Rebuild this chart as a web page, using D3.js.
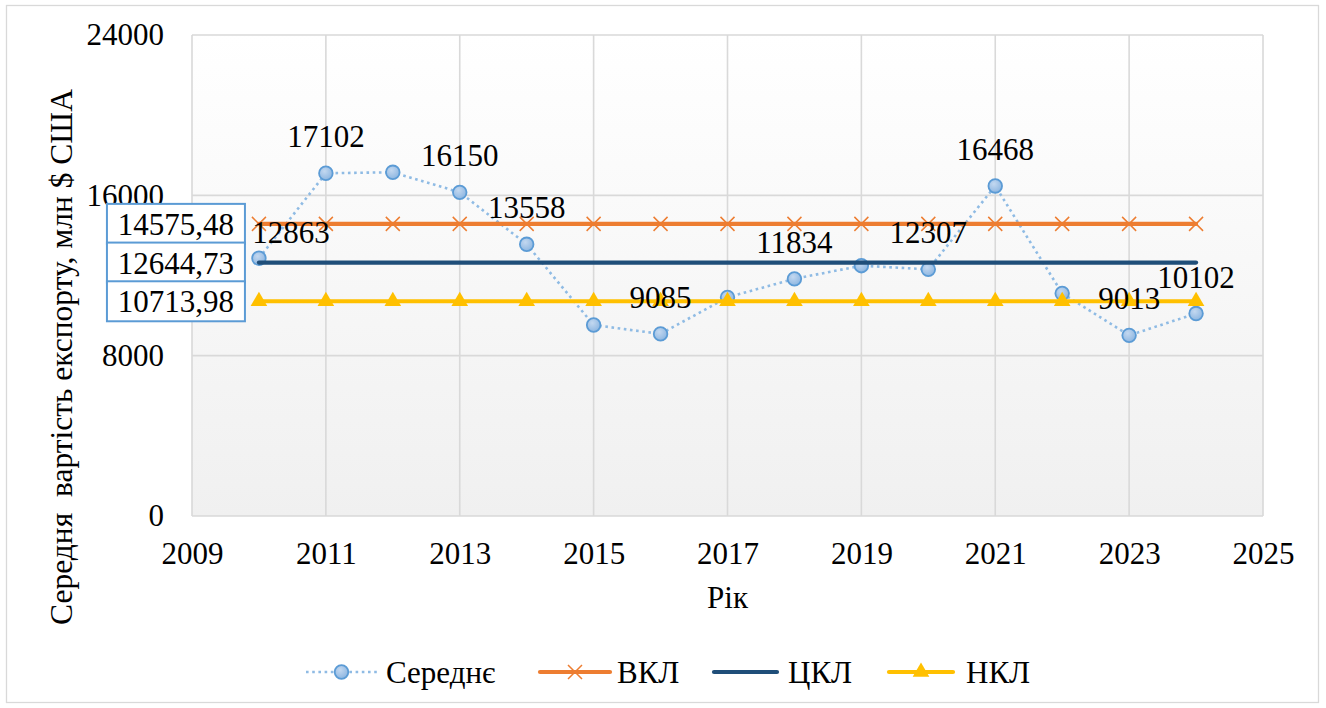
<!DOCTYPE html>
<html>
<head>
<meta charset="utf-8">
<script src="https://cdn.jsdelivr.net/npm/d3@7"></script>
<style>
  html, body { margin: 0; padding: 0; background: #fff; }
  svg text { font-family: "Liberation Serif", Tinos, "Times New Roman", serif !important; fill: #000; }
</style>
</head>
<body>
<svg id="chart" width="1326" height="708"></svg>
<script>
// ---- data ----
const years = [2010, 2011, 2012, 2013, 2014, 2015, 2016, 2017, 2018, 2019, 2020, 2021, 2022, 2023, 2024];
const meanValues = [12863, 17102, 17150, 16150, 13558, 9530, 9085, 10910, 11834, 12490, 12307, 16468, 11110, 9013, 10102];
const labelledYears = [2010, 2011, 2013, 2014, 2016, 2018, 2020, 2021, 2023, 2024];
const upperLimit = 14575.48;   // ВКЛ
const centerLine = 12644.73;   // ЦКЛ
const lowerLimit = 10713.98;   // НКЛ
const limitLabels = ["14575,48", "12644,73", "10713,98"];
const xTicks = [2009, 2011, 2013, 2015, 2017, 2019, 2021, 2023, 2025];
const yTicks = [0, 8000, 16000, 24000];
const seriesNames = ["Середнє", "ВКЛ", "ЦКЛ", "НКЛ"];
const xTitle = "Рік";
const yTitle = "Середня  вартість експорту, млн $ США";

// ---- layout ----
const FONT = 31;
const FAMILY = "'Liberation Serif', Tinos, 'Times New Roman', serif";
const svg = d3.select("#chart");
const x = d3.scaleLinear().domain([2009, 2025]).range([192, 1263]);
const y = d3.scaleLinear().domain([0, 24000]).range([516, 35]);
const colors = { mean: "#5b9bd5", meanLine: "#8fbbe4", upper: "#ed7d31", center: "#1f4e79", lower: "#ffc000", grid: "#d9d9d9" };

function styleText(sel, size) {
  return sel.attr("font-family", FAMILY).style("font-family", FAMILY)
    .style("font-size", (size || FONT) + "px").attr("fill", "#000");
}

// outer border
svg.append("rect").attr("x", 6.5).attr("y", 5.5).attr("width", 1312).attr("height", 697)
  .attr("fill", "#fff").attr("stroke", colors.grid).attr("stroke-width", 1.3);

// gradients
const defs = svg.append("defs");
const grad = defs.append("linearGradient").attr("id", "bg").attr("x1", 0).attr("y1", 0).attr("x2", 0).attr("y2", 1);
grad.append("stop").attr("offset", "0%").attr("stop-color", "#ffffff");
grad.append("stop").attr("offset", "100%").attr("stop-color", "#f0f0f0");
const mg = defs.append("radialGradient").attr("id", "mk").attr("cx", "40%").attr("cy", "35%").attr("r", "70%");
mg.append("stop").attr("offset", "0%").attr("stop-color", "#c3d8f0");
mg.append("stop").attr("offset", "100%").attr("stop-color", "#8ab4e0");

const [x0, x1] = x.range();
const [yb, yt] = y.range();
svg.append("rect").attr("x", x0).attr("y", yt).attr("width", x1 - x0).attr("height", yb - yt)
  .attr("fill", "url(#bg)");

// gridlines
svg.append("g").selectAll("line").data(xTicks).join("line")
  .attr("x1", d => x(d)).attr("x2", d => x(d)).attr("y1", yt).attr("y2", yb)
  .attr("stroke", colors.grid).attr("stroke-width", 1.6);
svg.append("g").selectAll("line").data(yTicks).join("line")
  .attr("x1", x0).attr("x2", x1).attr("y1", d => y(d)).attr("y2", d => y(d))
  .attr("stroke", colors.grid).attr("stroke-width", 1.6);

// axes (labels only)
const xAxis = svg.append("g").attr("transform", `translate(0,${yb})`)
  .call(d3.axisBottom(x).tickValues(xTicks).tickFormat(d3.format("d")).tickSize(0).tickPadding(26));
xAxis.attr("font-family", null).attr("font-size", null);
xAxis.select(".domain").remove();
styleText(xAxis.selectAll("text"));

const yAxis = svg.append("g").attr("transform", `translate(${x0},0)`)
  .call(d3.axisLeft(y).tickValues(yTicks).tickFormat(d3.format("d")).tickSize(0).tickPadding(28));
yAxis.attr("font-family", null).attr("font-size", null);
yAxis.select(".domain").remove();
styleText(yAxis.selectAll("text"));

// axis titles
styleText(svg.append("text").attr("x", x(2017)).attr("y", 608).attr("text-anchor", "middle")).text(xTitle);
styleText(svg.append("text").attr("transform", `translate(72,357) rotate(-90)`).attr("text-anchor", "middle"), 31.5)
  .style("white-space", "pre").text(yTitle);

const data = years.map((yr, i) => ({ yr, v: meanValues[i] }));
const line = d3.line().x(d => x(d.yr)).y(d => y(d.v));

// Середнє series
svg.append("path").datum(data).attr("d", line).attr("fill", "none")
  .attr("stroke", colors.meanLine).attr("stroke-width", 2.6).attr("stroke-dasharray", "2.6,3.6");
svg.append("g").selectAll("circle").data(data).join("circle")
  .attr("cx", d => x(d.yr)).attr("cy", d => y(d.v)).attr("r", 6.8)
  .attr("fill", "url(#mk)").attr("stroke", colors.mean).attr("stroke-width", 1.8);

// limit lines
function hline(val, color) {
  return svg.append("path").datum(years.map(yr => ({ yr, v: val }))).attr("d", line)
    .attr("fill", "none").attr("stroke", color).attr("stroke-width", 4.2).attr("stroke-linecap", "round");
}
hline(upperLimit, colors.upper);
svg.append("g").selectAll("path").data(years).join("path")
  .attr("transform", d => `translate(${x(d)},${y(upperLimit)})`)
  .attr("d", "M-7,-7L7,7M-7,7L7,-7").attr("stroke", colors.upper).attr("stroke-width", 1.5).attr("fill", "none");
hline(centerLine, colors.center);
hline(lowerLimit, colors.lower);
const tri = d3.symbol().type(d3.symbolTriangle).size(120);
svg.append("g").selectAll("path").data(years).join("path")
  .attr("transform", d => `translate(${x(d)},${y(lowerLimit)})`)
  .attr("d", tri).attr("fill", colors.lower);

// data labels for Середнє
const labelOffset = { 2010: [32, -15] };
styleText(svg.append("g").selectAll("text").data(data.filter(d => labelledYears.includes(d.yr))).join("text")
  .attr("x", d => x(d.yr) + (labelOffset[d.yr] ? labelOffset[d.yr][0] : 0))
  .attr("y", d => y(d.v) + (labelOffset[d.yr] ? labelOffset[d.yr][1] : -26))
  .attr("text-anchor", "middle"))
  .text(d => d.v);

// boxed labels for limits (at first point)
const limits = [upperLimit, centerLine, lowerLimit];
const boxW = 138, boxH = 40;
const bx = x(years[0]) - 14 - boxW;
const boxes = svg.append("g").selectAll("g").data(limits).join("g")
  .attr("transform", d => `translate(${bx},${y(d) - boxH / 2})`);
boxes.append("rect").attr("width", boxW).attr("height", boxH)
  .attr("fill", "#fff").attr("stroke", colors.mean).attr("stroke-width", 2);
styleText(boxes.append("text").attr("x", boxW / 2).attr("y", boxH / 2 + 11).attr("text-anchor", "middle"))
  .text((d, i) => limitLabels[i]);

// legend
const lg = svg.append("g").attr("transform", "translate(0,672)");
const items = [
  { name: seriesNames[0], x1: 306, x2: 377, tx: 386 },
  { name: seriesNames[1], x1: 540, x2: 610, tx: 617 },
  { name: seriesNames[2], x1: 714, x2: 777, tx: 788 },
  { name: seriesNames[3], x1: 889, x2: 953, tx: 966 }
];
lg.append("line").attr("x1", items[0].x1).attr("x2", items[0].x2).attr("y1", 0).attr("y2", 0)
  .attr("stroke", colors.meanLine).attr("stroke-width", 2.6).attr("stroke-dasharray", "2.6,3.6");
lg.append("circle").attr("cx", (items[0].x1 + items[0].x2) / 2).attr("cy", 0).attr("r", 6.8)
  .attr("fill", "url(#mk)").attr("stroke", colors.mean).attr("stroke-width", 1.8);
lg.append("line").attr("x1", items[1].x1).attr("x2", items[1].x2).attr("y1", 0).attr("y2", 0)
  .attr("stroke", colors.upper).attr("stroke-width", 4.2).attr("stroke-linecap", "round");
lg.append("path").attr("transform", `translate(${(items[1].x1 + items[1].x2) / 2},0)`)
  .attr("d", "M-7,-7L7,7M-7,7L7,-7").attr("stroke", colors.upper).attr("stroke-width", 1.5);
lg.append("line").attr("x1", items[2].x1).attr("x2", items[2].x2).attr("y1", 0).attr("y2", 0)
  .attr("stroke", colors.center).attr("stroke-width", 4.2).attr("stroke-linecap", "round");
lg.append("line").attr("x1", items[3].x1).attr("x2", items[3].x2).attr("y1", 0).attr("y2", 0)
  .attr("stroke", colors.lower).attr("stroke-width", 4.2).attr("stroke-linecap", "round");
lg.append("path").attr("transform", `translate(${(items[3].x1 + items[3].x2) / 2},0)`)
  .attr("d", tri).attr("fill", colors.lower);
styleText(lg.selectAll("text.lt").data(items).join("text").attr("class", "lt")
  .attr("x", d => d.tx).attr("y", 11)).text(d => d.name);
</script>
</body>
</html>
